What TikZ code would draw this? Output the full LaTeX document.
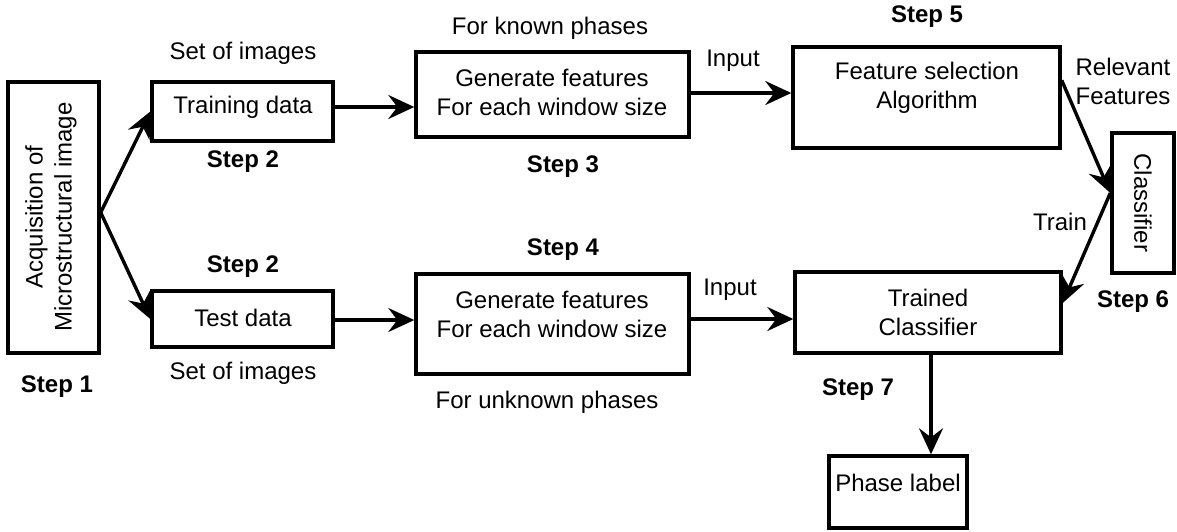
\documentclass[tikz,border=0pt]{standalone}
\usepackage{fontspec}
\setmainfont{Liberation Sans}
\usetikzlibrary{arrows.meta,calc}

\begin{document}
\begin{tikzpicture}[x=1pt,y=-1pt,
  box/.style={draw,line width=3.4pt,inner sep=0pt},
  txt/.style={inner sep=0pt,align=center,font=\fontsize{24}{29}\selectfont},
  steplabel/.style={inner sep=0pt,font=\fontsize{24}{29}\selectfont\bfseries},
  flow/.style={line width=3.4pt,-{Stealth[length=26pt,width=24pt,inset=9pt]}}]
\useasboundingbox (0,0) rectangle (1177,531);

% boxes
\node[box,minimum width=91pt,minimum height=271pt] (acq) at (53.5,217.5) {};
\node[box,minimum width=181pt,minimum height=59pt] (train) at (242.5,111.5) {};
\node[box,minimum width=181pt,minimum height=56pt] (test) at (242.5,319) {};
\node[box,minimum width=273pt,minimum height=85pt] (gen1) at (552.5,94.5) {};
\node[box,minimum width=273pt,minimum height=100pt] (gen2) at (552.5,324) {};
\node[box,minimum width=267pt,minimum height=101pt] (fsel) at (926.5,97.5) {};
\node[box,minimum width=266pt,minimum height=81pt] (tcls) at (928,312.5) {};
\node[box,minimum width=62pt,minimum height=140pt] (cls) at (1143,203) {};
\node[box,minimum width=138pt,minimum height=72pt] (phase) at (898,492) {};

% box texts
\node[txt,rotate=90] (acqtxt) at (51,217) {Acquisition of\\Microstructural image};
\node[txt] (traintxt) at (243,107) {Training data};
\node[txt] (testtxt) at (243,318) {Test data};
\node[txt] (gen1txt) at (552,92) {Generate features\\For each window size};
\node[txt] (gen2txt) at (552,314) {Generate features\\For each window size};
\node[txt] (fseltxt) at (927,87.5) {Feature selection\\Algorithm};
\node[txt] (tclstxt) at (928,312) {Trained\\Classifier};
\node[txt,rotate=-90] (clstxt) at (1143,203) {Classifier};
\node[txt] (phasetxt) at (898,483) {Phase label};

% annotations
\node[txt] (img1) at (243,53) {Set of images};
\node[txt] (img2) at (243,373) {Set of images};
\node[txt] (known) at (550,28) {For known phases};
\node[txt] (unknown) at (547,402) {For unknown phases};
\node[txt] (in1) at (733,61) {Input};
\node[txt] (in2) at (730,290) {Input};
\node[txt] (relev) at (1123,81.5) {Relevant\\Features};
\node[txt] (traintag) at (1060,222) {Train};

\node[steplabel] (s1) at (57,387) {Step 1};
\node[steplabel] (s2a) at (243,162) {Step 2};
\node[steplabel] (s2b) at (243,267) {Step 2};
\node[steplabel] (s3) at (563,167) {Step 3};
\node[steplabel] (s4) at (563,250) {Step 4};
\node[steplabel] (s5) at (927,17) {Step 5};
\node[steplabel] (s6) at (1133,302) {Step 6};
\node[steplabel] (s7) at (858,390) {Step 7};

% connectors
\coordinate (fork) at ([yshift=5pt]acq.east);
\coordinate (clsin) at ([yshift=10pt]cls.west);
\draw[flow] (fork) -- (train.west);
\draw[flow] (fork) -- (test.west);
\draw[flow] ([yshift=4.5pt]train.east) -- ([yshift=4.5pt]train.east -| gen1.west);
\draw[flow] ([yshift=-1pt]test.east) -- ([yshift=-1pt]test.east -| gen2.west);
\draw[flow] ([yshift=1.5pt]gen1.east) -- ([yshift=1.5pt]gen1.east -| fsel.west);
\draw[flow] ([yshift=5pt]gen2.east) -- ([yshift=5pt]gen2.east -| tcls.west);
\draw[flow] ([yshift=-35pt]fsel.north east) -- (clsin);
\draw[flow] (clsin) -- ([yshift=9.5pt]tcls.east);
\draw[flow] ([xshift=3pt]tcls.south) -- ([xshift=3pt]tcls.south |- phase.north);
\end{tikzpicture}
\end{document}
